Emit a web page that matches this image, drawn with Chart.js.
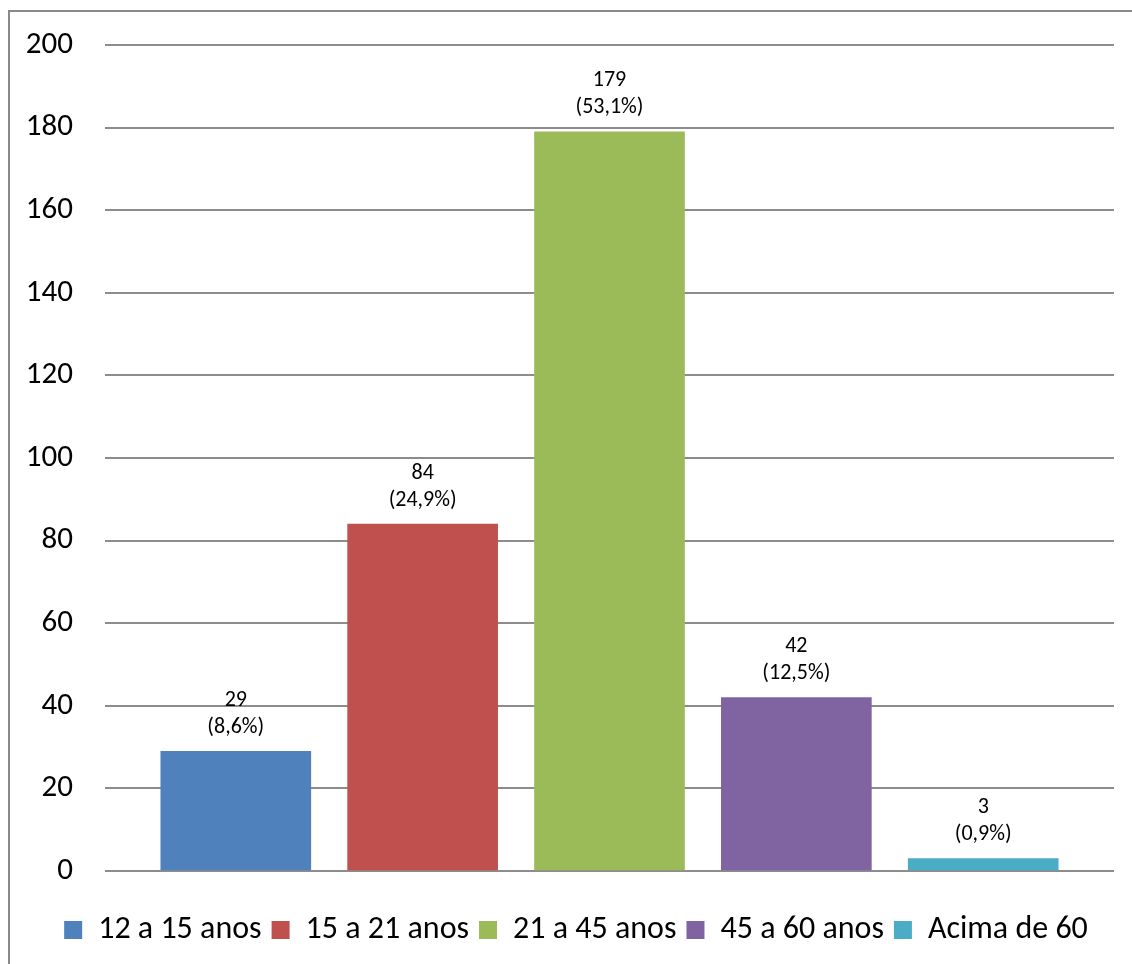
<!DOCTYPE html>
<html>
<head>
<meta charset="utf-8">
<script src="https://cdn.jsdelivr.net/npm/chart.js@4/dist/chart.umd.min.js"></script>
<style>
  html, body { margin: 0; padding: 0; background: #fff; }
  #faixa { display: block; }
</style>
</head>
<body>
<canvas id="faixa" width="1132" height="964"></canvas>
<script>
// Faixa etária chart

const faixas = ['12 a 15 anos', '15 a 21 anos', '21 a 45 anos', '45 a 60 anos', 'Acima de 60'];
const quantidade = [29, 84, 179, 42, 3];
const cores = ['#4F81BD', '#C0504D', '#9BBB59', '#8064A2', '#4BACC6'];
const yTicks = [0, 20, 40, 60, 80, 100, 120, 140, 160, 180, 200];

const FONTE = "Calibri, Carlito, Lato, 'Open Sans', sans-serif";
const total = quantidade.reduce((a, b) => a + b, 0);

// white background and the grey frame round the chart
const moldura = {
    id: 'moldura',
    beforeDraw(chart) {
        const ctx = chart.ctx;
        ctx.save();
        ctx.fillStyle = '#fff';
        ctx.fillRect(0, 0, chart.width, chart.height);
        ctx.strokeStyle = '#898989';
        ctx.lineWidth = 2;
        ctx.beginPath();
        ctx.moveTo(9, chart.height);
        ctx.lineTo(9, 11);
        ctx.lineTo(chart.width, 11);
        ctx.stroke();
        ctx.restore();
    }
};

// nudge the legend a little to the right
const legendaDesloc = {
    id: 'legendaDesloc',
    afterLayout(chart) {
        if (chart.legend) {
            chart.legend.left += 22;
        }
    }
};

// value and percentage written above each bar
const rotulos = {
    id: 'rotulos',
    afterDatasetsDraw(chart) {
        const ctx = chart.ctx;
        ctx.save();
        ctx.fillStyle = '#000';
        ctx.textAlign = 'center';
        ctx.textBaseline = 'middle';
        ctx.font = '22px ' + FONTE;
        chart.data.datasets.forEach((ds, i) => {
            const bar = chart.getDatasetMeta(i).data[0];
            const v = quantidade[i];
            const pct = (v / total * 100).toFixed(1).replace('.', ',');
            ctx.fillText(String(v), bar.x, bar.y - 51);
            ctx.fillText('(' + pct + '%)', bar.x, bar.y - 24);
        });
        ctx.restore();
    }
};

const ctx = document.getElementById('faixa').getContext('2d');
const faixaChart = new Chart(ctx, {
    type: 'bar',
    data: {
        datasets: faixas.map((nome, i) => ({
            label: nome,
            data: [{ x: i, y: quantidade[i] }],
            backgroundColor: cores[i],
            borderWidth: 0,
            barThickness: 150,
            grouped: false
        }))
    },
    options: {
        responsive: false,
        animation: false,
        layout: {
            padding: { left: 16, right: 18, top: 45, bottom: 8 }
        },
        scales: {
            x: {
                type: 'linear',
                min: -0.7,
                max: 4.7,
                offset: false,
                afterFit: (s) => { s.height = 33; },
                border: { display: false },
                grid: { display: false },
                ticks: { display: false }
            },
            y: {
                min: 0,
                max: 200,
                afterBuildTicks: (s) => { s.ticks = yTicks.map(v => ({ value: v })); },
                afterFit: (s) => {
                    s.width = 89;
                    s.paddingTop = 0;
                    s.paddingBottom = 0;
                },
                border: { display: false },
                grid: {
                    color: '#8c8c8c',
                    lineWidth: 2,
                    drawTicks: false
                },
                ticks: {
                    padding: 32,
                    color: '#000',
                    font: { family: FONTE, size: 31 }
                }
            }
        },
        plugins: {
            tooltip: { enabled: false },
            legend: {
                position: 'bottom',
                labels: {
                    boxWidth: 18,
                    boxHeight: 18,
                    padding: 10,
                    color: '#000',
                    font: { family: FONTE, size: 32 }
                }
            }
        }
    },
    plugins: [moldura, legendaDesloc, rotulos]
});
</script>
</body>
</html>
